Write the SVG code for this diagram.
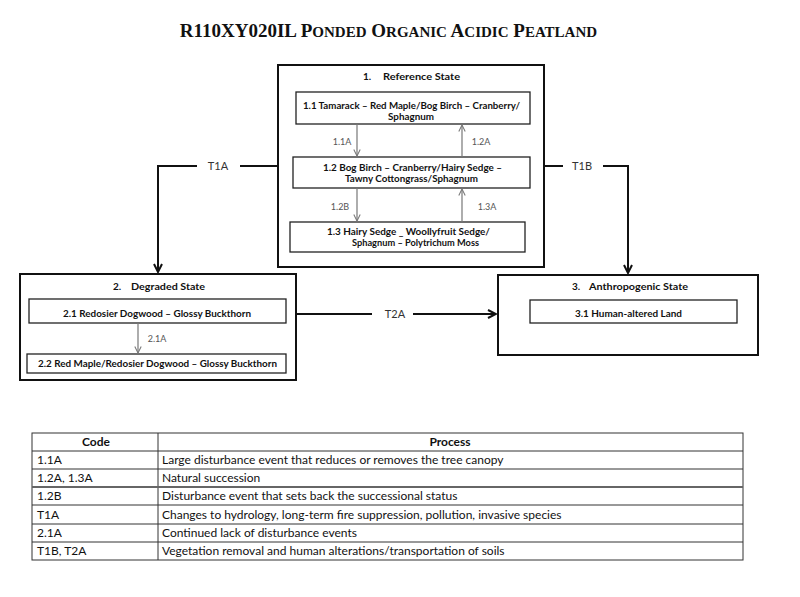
<svg xmlns="http://www.w3.org/2000/svg" width="800" height="597" viewBox="0 0 800 597">
<style>
.box{fill:#fff;stroke:#111;stroke-width:2}
.ibox{fill:#fff;stroke:#222;stroke-width:1.3}
.bt{font-family:Lato,"Liberation Sans",sans-serif;font-weight:bold;font-size:9.5px;fill:#111;text-anchor:middle}
.st{font-family:Lato,"Liberation Sans",sans-serif;font-weight:bold;font-size:10px;fill:#111}
.lbl{font-family:Lato,"Liberation Sans",sans-serif;font-size:9px;fill:#555;text-anchor:middle}
.tl{font-family:Lato,"Liberation Sans",sans-serif;font-size:11px;fill:#333;text-anchor:middle}
.tr{fill:none;stroke:#111;stroke-width:2}
.ga{fill:none;stroke:#777;stroke-width:1.2}
.tc{font-family:Lato,"Liberation Sans",sans-serif;font-size:12px;fill:#111}
.th{font-family:Lato,"Liberation Sans",sans-serif;font-size:12px;font-weight:bold;fill:#111;text-anchor:middle}
.tb{fill:none;stroke:#333;stroke-width:1}
</style>
<defs>
<marker id="ah" viewBox="0 0 10 10" refX="9" refY="5" markerWidth="10" markerHeight="10" orient="auto" markerUnits="userSpaceOnUse"><path d="M1,1 L9,5 L1,9" fill="none" stroke="#111" stroke-width="2"/></marker>
<marker id="gh" viewBox="0 0 10 10" refX="9" refY="5" markerWidth="8" markerHeight="8" orient="auto" markerUnits="userSpaceOnUse"><path d="M1,1 L9,5 L1,9" fill="none" stroke="#777" stroke-width="1.3"/></marker>
</defs>
<rect width="800" height="597" fill="#fff"/>
<text x="388.5" y="37" text-anchor="middle" font-family="Liberation Serif,serif" font-weight="bold" font-size="19" fill="#111">R110XY020IL P<tspan font-size="15">ONDED</tspan> O<tspan font-size="15">RGANIC</tspan> A<tspan font-size="15">CIDIC</tspan> P<tspan font-size="15">EATLAND</tspan></text>

<g id="state1">
<rect class="box" x="278" y="65" width="266" height="202"/>
<text class="st" x="363" y="80">1.</text>
<text class="st" x="383" y="80" textLength="77" lengthAdjust="spacingAndGlyphs">Reference State</text>
</g>
<g id="s1-1">
<rect class="ibox" x="296" y="92" width="234" height="32"/>
<text class="bt" x="411.5" y="109" textLength="217" lengthAdjust="spacingAndGlyphs">1.1 Tamarack – Red Maple/Bog Birch – Cranberry/</text>
<text class="bt" x="411" y="120" textLength="46" lengthAdjust="spacingAndGlyphs">Sphagnum</text>
</g>
<g id="s1-2">
<rect class="ibox" x="293" y="157" width="237" height="31"/>
<text class="bt" x="412.5" y="171" textLength="179" lengthAdjust="spacingAndGlyphs">1.2 Bog Birch – Cranberry/Hairy Sedge –</text>
<text class="bt" x="411.5" y="182" textLength="133" lengthAdjust="spacingAndGlyphs">Tawny Cottongrass/Sphagnum</text>
</g>
<g id="s1-3">
<rect class="ibox" x="290" y="222" width="235" height="30"/>
<text class="bt" x="408.5" y="235" textLength="163" lengthAdjust="spacingAndGlyphs">1.3 Hairy Sedge _ Woollyfruit Sedge/</text>
<text class="bt" x="415.5" y="245.5" textLength="127" lengthAdjust="spacingAndGlyphs">Sphagnum – Polytrichum Moss</text>
</g>

<g id="state2">
<rect class="box" x="20" y="274" width="276" height="106"/>
<text class="st" x="113" y="290">2.</text>
<text class="st" x="131" y="290" textLength="74" lengthAdjust="spacingAndGlyphs">Degraded State</text>
</g>
<g id="s2-1">
<rect class="ibox" x="29" y="299" width="257" height="24"/>
<text class="bt" x="157" y="317" textLength="188" lengthAdjust="spacingAndGlyphs">2.1  Redosier Dogwood – Glossy Buckthorn</text>
</g>
<g id="s2-2">
<rect class="ibox" x="27" y="354" width="259" height="19"/>
<text class="bt" x="157.5" y="366.5" textLength="239" lengthAdjust="spacingAndGlyphs">2.2  Red Maple/Redosier Dogwood – Glossy Buckthorn</text>
</g>

<g id="state3">
<rect class="box" x="498" y="275" width="260" height="80"/>
<text class="st" x="572" y="290">3.</text>
<text class="st" x="589" y="290" textLength="99" lengthAdjust="spacingAndGlyphs">Anthropogenic State</text>
</g>
<g id="s3-1">
<rect class="ibox" x="530" y="300" width="207" height="23"/>
<text class="bt" x="628.5" y="317" textLength="107" lengthAdjust="spacingAndGlyphs">3.1  Human-altered Land</text>
</g>

<g id="connectors">
<path class="ga" d="M357,124 V156" marker-end="url(#gh)"/>
<path class="ga" d="M462,157 V125" marker-end="url(#gh)"/>
<path class="ga" d="M357,188 V221" marker-end="url(#gh)"/>
<path class="ga" d="M462,222 V189" marker-end="url(#gh)"/>
<path class="ga" d="M138,323 V353" marker-end="url(#gh)"/>
<text class="lbl" x="342" y="145">1.1A</text>
<text class="lbl" x="481" y="145">1.2A</text>
<text class="lbl" x="340" y="210">1.2B</text>
<text class="lbl" x="487" y="210">1.3A</text>
<text class="lbl" x="157" y="342">2.1A</text>
<path class="tr" d="M278,166 H240 M197,166 H158 V272" marker-end="url(#ah)"/>
<text class="tl" x="218" y="170">T1A</text>
<path class="tr" d="M544,166 H563 M603,166 H628 V273" marker-end="url(#ah)"/>
<text class="tl" x="582" y="170">T1B</text>
<path class="tr" d="M296,314 H372 M413,314 H496" marker-end="url(#ah)"/>
<text class="tl" x="395" y="318">T2A</text>
</g>

<g id="table">
<rect class="tb" x="32" y="433" width="711" height="127"/>
<path class="tb" d="M158,433 V560 M32,451 H743 M32,469 H743 M32,505 H743 M32,524 H743 M32,542 H743"/>
<path d="M32,487 H743" stroke="#666" stroke-width="1.8"/>
<text class="th" x="96" y="446">Code</text>
<text class="th" x="450" y="446">Process</text>
<text class="tc" x="37" y="464">1.1A</text>
<text class="tc" x="162" y="464">Large disturbance event that reduces or removes the tree canopy</text>
<text class="tc" x="37" y="482">1.2A, 1.3A</text>
<text class="tc" x="162" y="482">Natural succession</text>
<text class="tc" x="37" y="500">1.2B</text>
<text class="tc" x="162" y="500">Disturbance event that sets back the successional status</text>
<text class="tc" x="37" y="519">T1A</text>
<text class="tc" x="162" y="519">Changes to hydrology, long-term fire suppression, pollution, invasive species</text>
<text class="tc" x="37" y="537">2.1A</text>
<text class="tc" x="162" y="537">Continued lack of disturbance events</text>
<text class="tc" x="37" y="555">T1B, T2A</text>
<text class="tc" x="162" y="555">Vegetation removal and human alterations/transportation of soils</text>
</g>
</svg>
